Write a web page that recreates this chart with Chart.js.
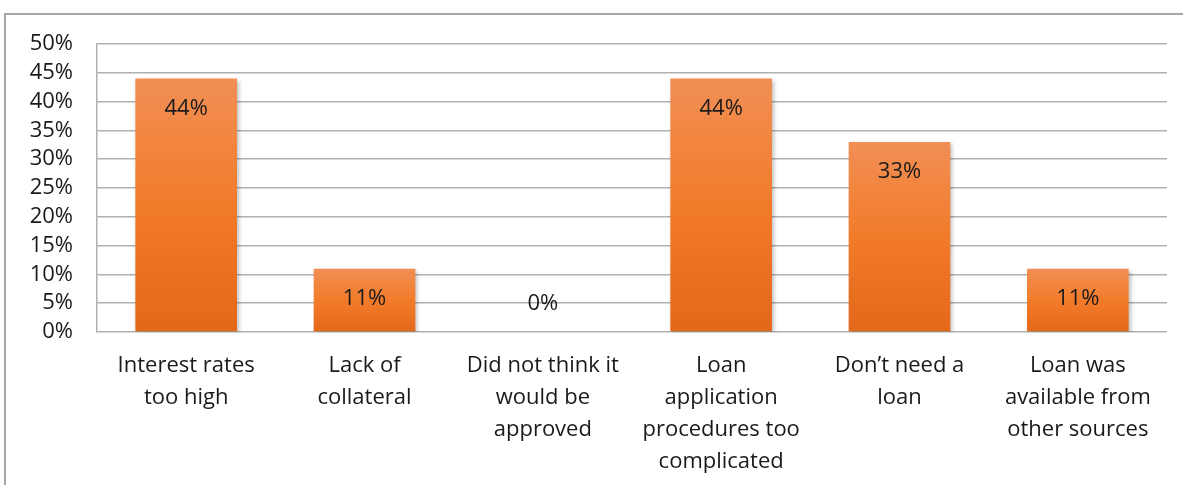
<!DOCTYPE html>
<html lang="en">
<head>
    <meta charset="UTF-8">
    <title>Reasons for not applying for a loan</title>
    <script src="https://cdn.jsdelivr.net/npm/chart.js"></script>
    <style>
        body {
            margin: 0;
            padding: 0;
            background: #fff;
            overflow: hidden;
        }
        .frame {
            position: absolute;
            left: 4px;
            top: 13px;
            width: 1200px;
            height: 500px;
            border-left: 2px solid #a6a6a6;
            border-top: 2px solid #a6a6a6;
        }
        .chart-box {
            position: absolute;
            left: 0;
            top: 0;
            width: 1183px;
            height: 485px;
        }
    </style>
</head>
<body>

<div class="frame"></div>
<div class="chart-box">
    <canvas id="loanChart"></canvas>
</div>

<script>
    // categories and values (share of respondents, %)
    const categories = [
        ['Interest rates', 'too high'],
        ['Lack of', 'collateral'],
        ['Did not think it', 'would be', 'approved'],
        ['Loan', 'application', 'procedures too', 'complicated'],
        ['Don\u2019t need a', 'loan'],
        ['Loan was', 'available from', 'other sources']
    ];
    const shares = [44, 11, 0, 44, 33, 11];
    const yTicks = [0, 5, 10, 15, 20, 25, 30, 35, 40, 45, 50];

    const fontFamily = '"Open Sans", "Noto Sans", sans-serif';

    // gradient per bar, light at top, darker at base
    function barFill(context) {
        const chart = context.chart;
        const y = chart.scales.y;
        if (!y || !chart.chartArea || context.parsed === undefined) return '#f07f2e';
        const top = y.getPixelForValue(context.parsed.y);
        const base = y.getPixelForValue(0);
        if (base - top < 1) return '#f3f3f3';
        const g = chart.ctx.createLinearGradient(0, top, 0, base);
        g.addColorStop(0, '#f18f55');
        g.addColorStop(0.5, '#f27b2a');
        g.addColorStop(1, '#e4681a');
        return g;
    }

    const barShadow = {
        id: 'barShadow',
        beforeDatasetDraw(chart) {
            const c = chart.ctx;
            c.save();
            c.shadowColor = 'rgba(0,0,0,0.25)';
            c.shadowBlur = 4;
            c.shadowOffsetX = 2;
            c.shadowOffsetY = 2;
        },
        afterDatasetDraw(chart) {
            chart.ctx.restore();
        }
    };

    const valueLabels = {
        id: 'valueLabels',
        afterDatasetsDraw(chart) {
            const c = chart.ctx;
            const meta = chart.getDatasetMeta(0);
            c.save();
            c.font = '22px ' + fontFamily;
            c.fillStyle = '#1a1a1a';
            c.textAlign = 'center';
            c.textBaseline = 'middle';
            meta.data.forEach((bar, i) => {
                const v = shares[i];
                const ty = v > 0 ? bar.y + 30 : bar.base - 28;
                c.fillText(v + '%', bar.x, ty);
            });
            c.restore();
        }
    };

    new Chart(document.getElementById('loanChart').getContext('2d'), {
        type: 'bar',
        data: {
            labels: categories,
            datasets: [{
                data: shares,
                backgroundColor: barFill,
                borderWidth: 0,
                barPercentage: 0.57,
                categoryPercentage: 1
            }]
        },
        options: {
            responsive: true,
            maintainAspectRatio: false,
            animation: false,
            layout: { padding: { top: 44, right: 16, left: 0, bottom: 0 } },
            plugins: {
                legend: { display: false },
                tooltip: { enabled: false }
            },
            scales: {
                x: {
                    grid: { display: false, drawTicks: false },
                    border: { display: false },
                    ticks: {
                        color: '#1a1a1a',
                        font: { family: fontFamily, size: 22, lineHeight: 1.45 },
                        padding: 18,
                        maxRotation: 0,
                        autoSkip: false
                    },
                    afterFit(scale) { scale.height = 153; }
                },
                y: {
                    min: 0,
                    max: 50,
                    afterBuildTicks(scale) {
                        scale.ticks = yTicks.map(v => ({ value: v }));
                    },
                    grid: { color: '#b0b0b0', lineWidth: 1.5, drawTicks: false },
                    border: { color: '#b0b0b0', width: 1.5 },
                    ticks: {
                        color: '#1a1a1a',
                        font: { family: fontFamily, size: 22, lineHeight: 1.0 },
                        padding: 24,
                        autoSkip: false,
                        callback: v => v + '%'
                    },
                    afterFit(scale) { scale.width = 97; }
                }
            }
        },
        plugins: [barShadow, valueLabels]
    });
</script>

</body>
</html>
